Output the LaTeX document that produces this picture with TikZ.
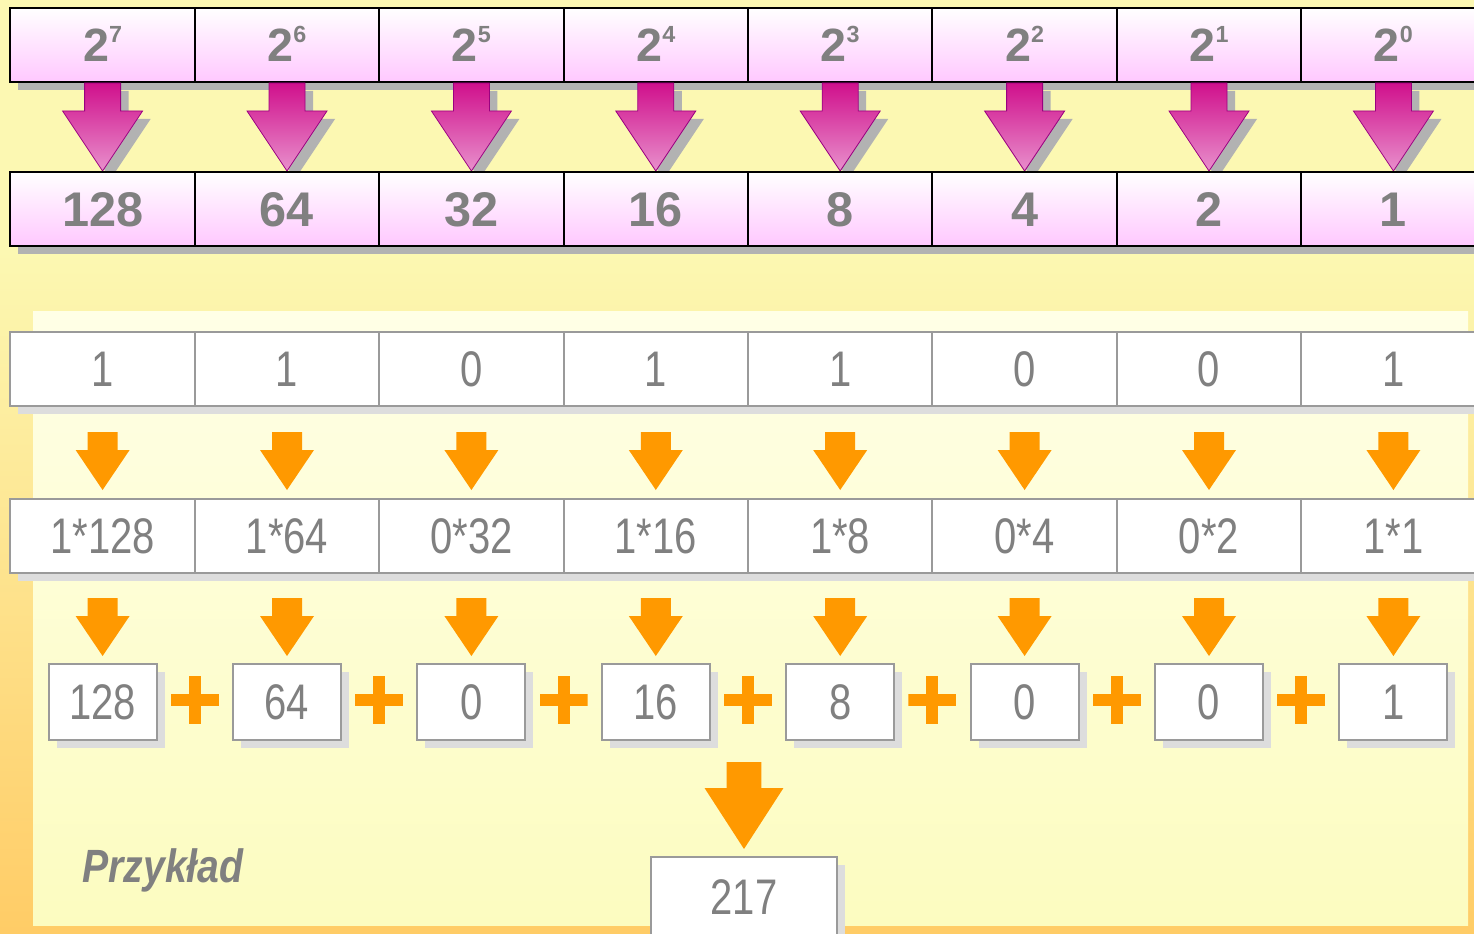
\documentclass[tikz,border=0pt]{standalone}
\usepackage{fontspec}
\setmainfont{Liberation Sans}
\newfontfamily\narrowfont[FakeStretch=0.8]{Liberation Sans}
\newfontfamily\slantfont[FakeStretch=0.84]{Liberation Sans}
\usepackage{xcolor}
\usepackage{tikz}
\usetikzlibrary{arrows.meta,positioning,calc,shadows}

\definecolor{txtgray}{HTML}{808080}
\definecolor{boxgray}{HTML}{9A9A9A}
\definecolor{pinkbot}{HTML}{FFC8FF}
\definecolor{darkshadow}{HTML}{B2B2B2}
\definecolor{lightshadow}{HTML}{DDDDDD}
\definecolor{magtop}{HTML}{D0108C}
\definecolor{magbot}{HTML}{E890CC}
\definecolor{magline}{HTML}{9A0080}
\definecolor{arroworange}{HTML}{FF9900}
\definecolor{outeryellow}{HTML}{FCF8B2}
\definecolor{outerorange}{HTML}{FFCC66}
\definecolor{paneltop}{HTML}{FFFFE6}
\definecolor{panelbot}{HTML}{FCFCC0}

\newcommand{\powtwo}[1]{2\raisebox{14.5pt}{\fontsize{17.5pt}{19pt}\selectfont\bfseries#1}}

\pgfdeclarelayer{front}
\pgfsetlayers{main,front}

\begin{document}
\begin{tikzpicture}[
    x=0.75pt, y=-0.75pt,
    blockarrow/.style n args={3}{to path={let \p1=(\tikztostart), \p2=(\tikztotarget) in
      (\x1-#1,\y1) -- (\x1+#1,\y1) -- (\x1+#1,\y2+#3) -- (\x1+#2,\y2+#3)
      -- (\x2,\y2) -- (\x1-#2,\y2+#3) -- (\x1-#1,\y2+#3) -- cycle}},
    powarrow/.style={blockarrow={13.5pt}{30pt}{45pt},draw=magline,line width=0.6pt,
                     top color=magtop,bottom color=magbot,
                     drop shadow={shadow xshift=6pt,shadow yshift=-6pt,fill=darkshadow,opacity=1}},
    bitarrow/.style={blockarrow={11.25pt}{20.25pt}{30pt},fill=arroworange,draw=none},
    sumarrow/.style={blockarrow={13.1pt}{29.6pt}{45.75pt},fill=arroworange,draw=none},
    cell/.style={minimum width=138.3pt,minimum height=55.5pt,inner sep=0pt,
                 line width=1.5pt,text=txtgray,text depth=0pt},
    powcell/.style={cell,draw=black,top color=white,bottom color=pinkbot,
                    font=\fontsize{35pt}{40pt}\selectfont\bfseries,text height=25pt,
                    drop shadow={shadow xshift=6pt,shadow yshift=-6pt,fill=darkshadow,opacity=1}},
    weightcell/.style={powcell,font=\fontsize{36.5pt}{42pt}\selectfont\bfseries,text height=25.6pt},
    bitcell/.style={cell,draw=boxgray,fill=white,
                    font=\narrowfont\fontsize{37.5pt}{42pt}\selectfont,text height=26.9pt,
                    drop shadow={shadow xshift=6pt,shadow yshift=-6pt,fill=lightshadow,opacity=1}},
    termcell/.style={bitcell,minimum width=81pt,minimum height=57pt},
    sumcell/.style={bitcell,minimum width=140pt,minimum height=60pt},
    plussign/.style={minimum size=36pt,inner sep=0pt,path picture={
      \fill[arroworange] ([yshift=-4.5pt]path picture bounding box.west)
        rectangle ([yshift=4.5pt]path picture bounding box.east);
      \fill[arroworange] ([xshift=-4.5pt]path picture bounding box.south)
        rectangle ([xshift=4.5pt]path picture bounding box.north);}},
  ]

  \useasboundingbox (0,0) rectangle (1474,934);
  \clip (0,0) rectangle (1474,934);

  % --- background and example panel
  \fill[outeryellow] (0,0) rectangle (1474,934);
  \shade[top color=outeryellow,bottom color=outerorange] (0,250) rectangle (1474,934);
  \shade[top color=paneltop,bottom color=panelbot] (33,312) rectangle (1468,925);

  % --- powers of two
  \node[powcell] (p7) at (102.6,45) {\powtwo{7}};
  \node[powcell] (p6) at (287.0,45) {\powtwo{6}};
  \node[powcell] (p5) at (471.4,45) {\powtwo{5}};
  \node[powcell] (p4) at (655.8,45) {\powtwo{4}};
  \node[powcell] (p3) at (840.2,45) {\powtwo{3}};
  \node[powcell] (p2) at (1024.6,45) {\powtwo{2}};
  \node[powcell] (p1) at (1209.0,45) {\powtwo{1}};
  \node[powcell] (p0) at (1393.4,45) {\powtwo{0}};

  % --- place values (kept above the arrow tips)
  \begin{pgfonlayer}{front}
  \node[weightcell] (w7) at (102.6,209) {128};
  \node[weightcell] (w6) at (287.0,209) {64};
  \node[weightcell] (w5) at (471.4,209) {32};
  \node[weightcell] (w4) at (655.8,209) {16};
  \node[weightcell] (w3) at (840.2,209) {8};
  \node[weightcell] (w2) at (1024.6,209) {4};
  \node[weightcell] (w1) at (1209.0,209) {2};
  \node[weightcell] (w0) at (1393.4,209) {1};
  \end{pgfonlayer}

  \draw[powarrow] (p7.south) to (w7.north);
  \draw[powarrow] (p6.south) to (w6.north);
  \draw[powarrow] (p5.south) to (w5.north);
  \draw[powarrow] (p4.south) to (w4.north);
  \draw[powarrow] (p3.south) to (w3.north);
  \draw[powarrow] (p2.south) to (w2.north);
  \draw[powarrow] (p1.south) to (w1.north);
  \draw[powarrow] (p0.south) to (w0.north);

  % --- binary digits
  \node[bitcell] (b7) at (102.6,369) {1};
  \node[bitcell] (b6) at (287.0,369) {1};
  \node[bitcell] (b5) at (471.4,369) {0};
  \node[bitcell] (b4) at (655.8,369) {1};
  \node[bitcell] (b3) at (840.2,369) {1};
  \node[bitcell] (b2) at (1024.6,369) {0};
  \node[bitcell] (b1) at (1209.0,369) {0};
  \node[bitcell] (b0) at (1393.4,369) {1};

  % --- digit times place value
  \node[bitcell] (m7) at (102.6,536) {1*128};
  \node[bitcell] (m6) at (287.0,536) {1*64};
  \node[bitcell] (m5) at (471.4,536) {0*32};
  \node[bitcell] (m4) at (655.8,536) {1*16};
  \node[bitcell] (m3) at (840.2,536) {1*8};
  \node[bitcell] (m2) at (1024.6,536) {0*4};
  \node[bitcell] (m1) at (1209.0,536) {0*2};
  \node[bitcell] (m0) at (1393.4,536) {1*1};

  % --- terms of the sum
  \node[termcell] (t7) at (102.6,702) {128};
  \node[termcell] (t6) at (287.0,702) {64};
  \node[termcell] (t5) at (471.4,702) {0};
  \node[termcell] (t4) at (655.8,702) {16};
  \node[termcell] (t3) at (840.2,702) {8};
  \node[termcell] (t2) at (1024.6,702) {0};
  \node[termcell] (t1) at (1209.0,702) {0};
  \node[termcell] (t0) at (1393.4,702) {1};

  \node[plussign] (s1) at (194.8,700) {};
  \node[plussign] (s2) at (379.2,700) {};
  \node[plussign] (s3) at (563.6,700) {};
  \node[plussign] (s4) at (748.0,700) {};
  \node[plussign] (s5) at (932.4,700) {};
  \node[plussign] (s6) at (1116.8,700) {};
  \node[plussign] (s7) at (1301.2,700) {};

  % --- result
  \node[sumcell] (total) at (744,897) {217};
  \coordinate (sum) at (744,762);
  \node[font=\slantfont\bfseries\itshape\fontsize{35pt}{40pt}\selectfont,text=txtgray,
        anchor=base west,inner sep=0pt] (title) at (82,882) {Przykład};

  % --- orange arrows
  \draw[bitarrow] ($(b7.south)+(0,25)$) to ($(m7.north)+(0,-8)$);
  \draw[bitarrow] ($(b6.south)+(0,25)$) to ($(m6.north)+(0,-8)$);
  \draw[bitarrow] ($(b5.south)+(0,25)$) to ($(m5.north)+(0,-8)$);
  \draw[bitarrow] ($(b4.south)+(0,25)$) to ($(m4.north)+(0,-8)$);
  \draw[bitarrow] ($(b3.south)+(0,25)$) to ($(m3.north)+(0,-8)$);
  \draw[bitarrow] ($(b2.south)+(0,25)$) to ($(m2.north)+(0,-8)$);
  \draw[bitarrow] ($(b1.south)+(0,25)$) to ($(m1.north)+(0,-8)$);
  \draw[bitarrow] ($(b0.south)+(0,25)$) to ($(m0.north)+(0,-8)$);

  \draw[bitarrow] ($(m7.south)+(0,24)$) to ($(t7.north)+(0,-7)$);
  \draw[bitarrow] ($(m6.south)+(0,24)$) to ($(t6.north)+(0,-7)$);
  \draw[bitarrow] ($(m5.south)+(0,24)$) to ($(t5.north)+(0,-7)$);
  \draw[bitarrow] ($(m4.south)+(0,24)$) to ($(t4.north)+(0,-7)$);
  \draw[bitarrow] ($(m3.south)+(0,24)$) to ($(t3.north)+(0,-7)$);
  \draw[bitarrow] ($(m2.south)+(0,24)$) to ($(t2.north)+(0,-7)$);
  \draw[bitarrow] ($(m1.south)+(0,24)$) to ($(t1.north)+(0,-7)$);
  \draw[bitarrow] ($(m0.south)+(0,24)$) to ($(t0.north)+(0,-7)$);

  \draw[sumarrow] (sum) to ($(total.north)+(0,-7)$);

\end{tikzpicture}
\end{document}
